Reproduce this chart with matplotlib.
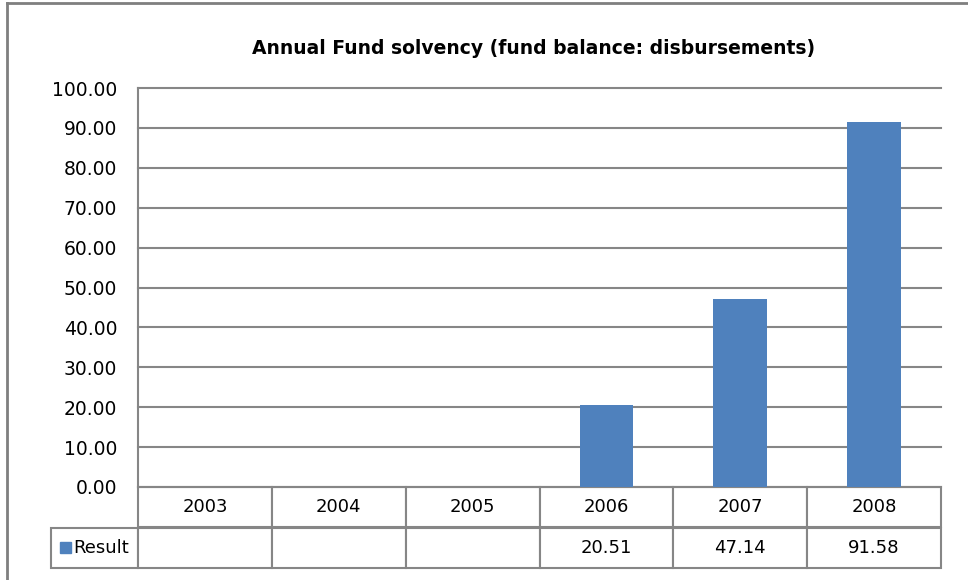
import numpy as np
import matplotlib
matplotlib.use("Agg")
import matplotlib.pyplot as plt
from matplotlib.lines import Line2D
from matplotlib.patches import Rectangle

years = ["2003", "2004", "2005", "2006", "2007", "2008"]
result = [np.nan, np.nan, np.nan, 20.51, 47.14, 91.58]
result_labels = ["", "", "", "20.51", "47.14", "91.58"]
yticks = [0, 10, 20, 30, 40, 50, 60, 70, 80, 90, 100]

BLUE = "#4F81BD"
GRID = "#868686"


def main():
    plt.rcParams["font.family"] = ["DejaVu Sans"]
    fig = plt.figure(figsize=(9.68, 5.80), dpi=100)
    W, H = 968, 580

    # axes placed from pixel positions of the plot area
    left, right, top, bottom = 138, 941, 88, 487
    pw, ph = right - left, bottom - top
    ax = fig.add_axes([left / W, 1 - bottom / H, pw / W, ph / H])

    x = np.arange(len(years))
    ax.bar(x, result, width=0.40, color=BLUE, zorder=3)
    ax.set_xlim(-0.5, len(years) - 0.5)
    ax.set_ylim(0, 100)
    ax.set_yticks(yticks)
    ax.set_yticklabels(["%.2f" % v for v in yticks], fontsize=13.5)
    ax.tick_params(axis="y", length=0, pad=15)
    ax.set_xticks([])
    ax.grid(axis="y", color=GRID, linewidth=1.5, zorder=0)
    for gl in ax.yaxis.get_gridlines():
        gl.set_clip_on(False)
    for s in ["top", "right", "bottom"]:
        ax.spines[s].set_visible(False)
    ax.spines["left"].set_color(GRID)
    ax.spines["left"].set_linewidth(1.5)

    # data table under the plot
    lab_w = (left - 51) / pw
    tab_h = (568 - bottom) / ph
    cells = [[""] + years, [""] + result_labels]
    tbl = ax.table(cellText=cells,
                   colWidths=[lab_w] + [1 / 6] * 6,
                   bbox=[-lab_w, -tab_h, 1 + lab_w, tab_h],
                   cellLoc="center")
    tbl.auto_set_font_size(False)
    tbl.set_fontsize(13)
    for (r, c), cell in tbl.get_celld().items():
        cell.set_edgecolor(GRID)
        cell.set_linewidth(1.5)
        if r == 0 and c == 0:
            cell.visible_edges = ""

    # row label with its legend key
    ax.text(-lab_w + 22 / pw, -tab_h * 0.75, "Result",
            transform=ax.transAxes, fontsize=13, ha="left", va="center")
    ax.add_patch(Rectangle((-lab_w + 9 / pw, -tab_h * 0.75 - 5.5 / ph), 11 / pw, 11 / ph,
                           transform=ax.transAxes, color=BLUE, clip_on=False))

    fig.text(0.5 * (250 + 818) / W, 1 - 48 / H,
             "Annual Fund solvency (fund balance: disbursements)",
             ha="center", va="center", fontsize=13.5, fontweight="bold")

    # chart border
    fig.add_artist(Line2D([7 / W, 1], [1 - 3 / H, 1 - 3 / H], color="#7F7F7F", lw=2))
    fig.add_artist(Line2D([7 / W, 7 / W], [0, 1 - 3 / H], color="#7F7F7F", lw=2))

    fig.savefig("out.png", dpi=100)


if __name__ == "__main__":
    main()
